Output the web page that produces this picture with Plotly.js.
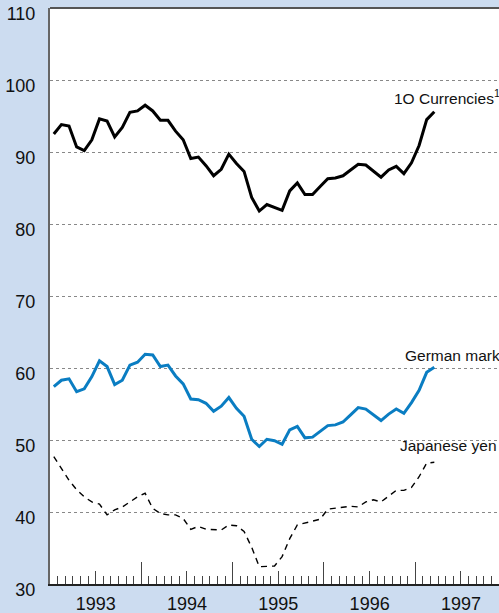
<!DOCTYPE html>
<html>
<head>
<meta charset="utf-8">
<script src="https://cdn.plot.ly/plotly-3.0.1.min.js"></script>
<style>
  html, body { margin: 0; padding: 0; background: #ccdcf0; }
  #chart { width: 499px; height: 613px; }
</style>
</head>
<body>
<div id="chart"></div>
<script>
// monthly values, Jan 1993 - Mar 1997 (index = months since Jan 1993)
const tenCurrencies = [
    92.5, 93.8, 93.6, 90.7, 90.2, 91.7, 94.6, 94.3, 92.1, 93.4, 95.5, 95.7,
    96.5, 95.7, 94.4, 94.4, 92.9, 91.7, 89.1, 89.3, 88.1, 86.7, 87.6, 89.7,
    88.4, 87.3, 83.7, 81.8, 82.7, 82.3, 81.9, 84.6, 85.7, 84.1, 84.1, 85.2,
    86.3, 86.4, 86.7, 87.5, 88.3, 88.2, 87.4, 86.5, 87.5, 88.0, 87.0, 88.5,
    90.9, 94.5, 95.6
];
const germanMark = [
    57.4, 58.3, 58.5, 56.7, 57.1, 58.8, 61.0, 60.2, 57.7, 58.3, 60.4, 60.8,
    61.9, 61.8, 60.2, 60.4, 58.9, 57.8, 55.7, 55.6, 55.1, 54.0, 54.7, 55.9,
    54.4, 53.3, 50.1, 49.1, 50.1, 49.9, 49.4, 51.4, 51.9, 50.3, 50.4, 51.2,
    52.0, 52.1, 52.5, 53.5, 54.5, 54.3, 53.5, 52.7, 53.6, 54.3, 53.7, 55.2,
    56.9, 59.4, 60.1
];
const japaneseYen = [
    47.7, 46.1, 44.4, 43.1, 42.1, 41.4, 41.1, 39.6, 40.3, 40.7, 41.4, 42.1,
    42.6, 40.5, 39.8, 39.6, 39.6, 39.1, 37.6, 38.0, 37.6, 37.5, 37.5, 38.2,
    38.1, 37.3, 35.1, 32.4, 32.5, 32.5, 33.8, 36.3, 38.2, 38.5, 38.8, 39.0,
    40.4, 40.5, 40.6, 40.8, 40.7, 41.4, 41.7, 41.4, 42.2, 43.0, 43.0, 43.4,
    44.9, 46.8, 46.9
];
const yearLabels = ["1993", "1994", "1995", "1996", "1997"];
const yearMid = [6, 18, 30, 42, 54];      // July of each year
const yearStart = [12, 24, 36, 48];       // January boundaries
const yTicks = [30, 40, 50, 60, 70, 80, 90, 100, 110];

// points sit mid-month
const months = tenCurrencies.map((_, i) => i + 0.5);

const data = [
    {
        x: months, y: tenCurrencies, type: "scatter", mode: "lines",
        line: { color: "#000000", width: 3 }, name: "1O Currencies"
    },
    {
        x: months, y: germanMark, type: "scatter", mode: "lines",
        line: { color: "#0a7dc2", width: 3 }, name: "German mark"
    },
    {
        x: months, y: japaneseYen, type: "scatter", mode: "lines",
        line: { color: "#000000", width: 1.4, dash: "6px,5px" }, name: "Japanese yen"
    },
    // invisible trace so the second x axis (year ticks) gets drawn
    {
        x: [0, 59], y: [30, 30], xaxis: "x2", type: "scatter", mode: "lines",
        line: { width: 0 }, hoverinfo: "skip", showlegend: false
    }
];

const labelFont = { family: "Liberation Sans, Arial, sans-serif", size: 15.5, color: "#111" };

const layout = {
    width: 499,
    height: 613,
    margin: { l: 50, r: 0, t: 8, b: 29 },
    paper_bgcolor: "#ccdcf0",
    plot_bgcolor: "#ffffff",
    showlegend: false,
    font: { family: "Liberation Sans, Arial, sans-serif", size: 18, color: "#111" },
    xaxis: {
        range: [0, 59],
        tickmode: "array",
        tickvals: yearMid,
        ticktext: yearLabels,
        ticks: "inside",
        ticklen: 13,
        tickwidth: 1,
        tickcolor: "#444",
        showgrid: false,
        zeroline: false,
        showline: true,
        linecolor: "#222",
        linewidth: 2,
        ticklabelstandoff: 2,
        minor: {
            tickmode: "linear", tick0: 0, dtick: 1,
            ticks: "inside", ticklen: 8, tickwidth: 1, tickcolor: "#444",
            showgrid: false
        },
        fixedrange: true
    },
    xaxis2: {
        overlaying: "x",
        anchor: "y",
        side: "bottom",
        range: [0, 59],
        tickmode: "array",
        tickvals: yearStart,
        ticks: "inside",
        ticklen: 22,
        tickwidth: 1,
        tickcolor: "#444",
        showticklabels: false,
        showgrid: false,
        zeroline: false
    },
    yaxis: {
        range: [30, 110],
        tickmode: "array",
        tickvals: yTicks,
        ticks: "",
        showgrid: true,
        gridcolor: "#888",
        griddash: "dot",
        gridwidth: 1,
        zeroline: false,
        showline: true,
        linecolor: "#666",
        linewidth: 2,
        ticklabelstandoff: 9,
        ticklabelshift: 6,
        ticklabeloverflow: "allow",
        fixedrange: true
    },
    shapes: [
        {
            type: "line", xref: "paper", yref: "paper",
            x0: 0, x1: 1, y0: 1, y1: 1,
            line: { color: "#555", width: 2 }
        }
    ],
    annotations: [
        { x: 45.0, y: 97.6, xref: "x", yref: "y", text: "1O Currencies<sup>1</sup>", showarrow: false, font: labelFont, xanchor: "left" },
        { x: 46.4, y: 61.8, xref: "x", yref: "y", text: "German mark", showarrow: false, font: labelFont, xanchor: "left" },
        { x: 45.7, y: 49.3, xref: "x", yref: "y", text: "Japanese yen", showarrow: false, font: labelFont, xanchor: "left" }
    ]
};

Plotly.newPlot("chart", data, layout, { displayModeBar: false, staticPlot: true });
</script>
</body>
</html>
